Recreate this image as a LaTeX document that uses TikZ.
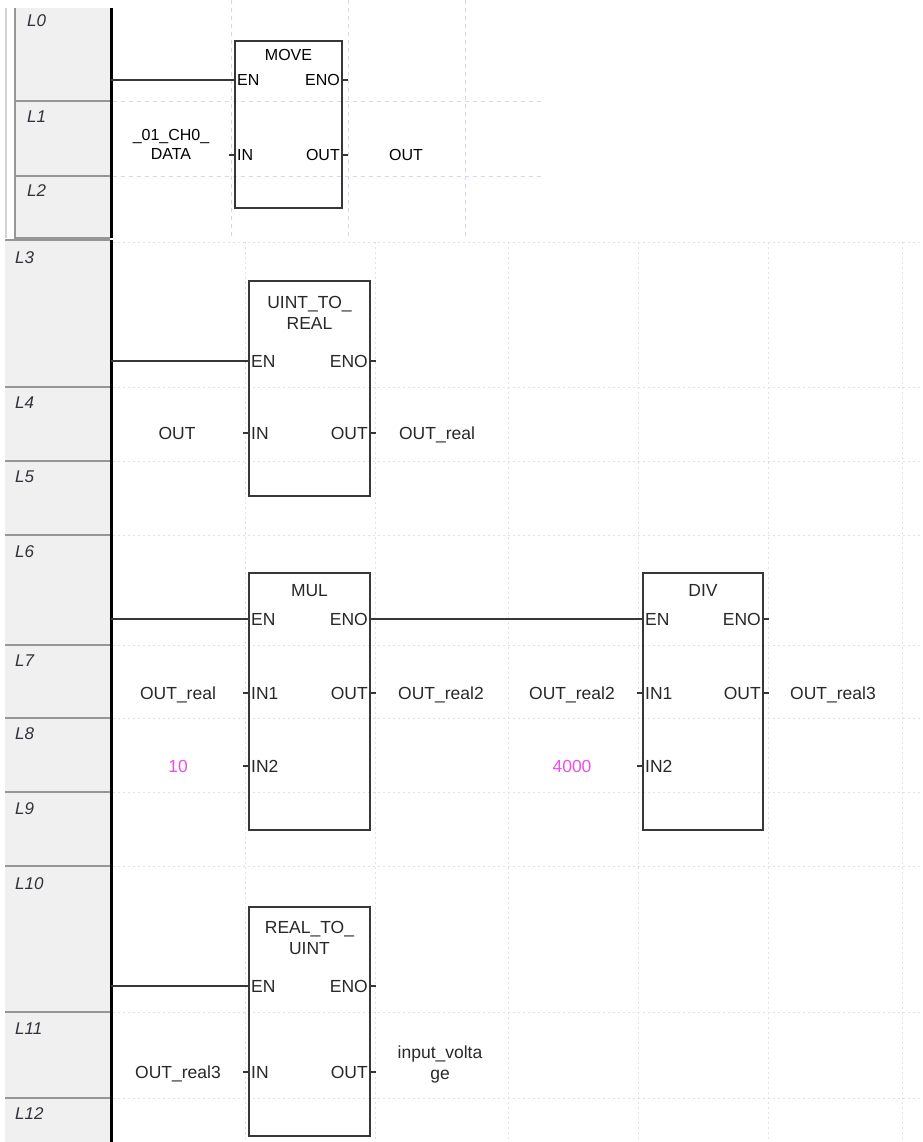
\documentclass[tikz,border=0pt]{standalone}
\usepackage{fontspec}
\setmainfont{Liberation Sans}
\usetikzlibrary{positioning,calc}
\definecolor{guttergray}{RGB}{240,240,240}
\definecolor{sepgray}{RGB}{150,150,150}
\definecolor{gridblue}{RGB}{214,214,240}
\definecolor{gridgray}{RGB}{225,225,225}
\definecolor{boxgray}{RGB}{55,55,55}
\definecolor{textgray}{RGB}{40,40,40}
\definecolor{labelgray}{RGB}{50,50,60}
\definecolor{constpink}{RGB}{235,80,235}

\begin{document}
\begin{tikzpicture}[
    x=1pt, y=-1pt,
    every node/.style={inner sep=0pt},
    topfont/.style={font=\fontsize{16}{19}\selectfont, text height=11.5pt, text depth=0pt, text=black},
    lowfont/.style={font=\fontsize{17.5}{21}\selectfont, text height=12.5pt, text depth=0pt, text=textgray},
    twoline/.style={align=center, anchor=base},
    rowlabel/.style={font=\fontsize{17}{20}\selectfont\itshape, anchor=west, text=labelgray},
    fblock/.style={rectangle, draw=boxgray, line width=1.6pt, minimum width=121pt},
    pinl/.style={anchor=west},
    pinr/.style={anchor=east},
    rail/.style={line width=3pt, black},
    rung/.style={line width=1.6pt, boxgray},
    stub/.style={line width=1.4pt, boxgray},
    topgrid/.style={gridblue, line width=0.8pt, dash pattern=on 4pt off 4pt},
    lowgrid/.style={gridgray, line width=0.8pt, dash pattern=on 2pt off 3pt},
    sep/.style={sepgray, line width=1.6pt}
]

% Page
\fill[white] (0,0) rectangle (922,1142);
\useasboundingbox (0,0) rectangle (922,1142);

% Upper program: gutter and grid
\fill[guttergray] (15,8) rectangle (110,238);
\draw[gray!35, line width=1.4pt] (6,8) -- (6,238);
\draw[sep] (15,8) -- (15,238) -- (110,238);
\draw[sep] (15,101) -- (110,101) (15,176) -- (110,176);
\draw[topgrid] (113,101) -- (545,101) (113,176) -- (545,176);
\draw[topgrid] (231,0) -- (231,238) (348,0) -- (348,238) (465,0) -- (465,238);
\draw[rail] (111,8) -- (111,238);

\node[rowlabel] (l0) at (27,21) {L0};
\node[rowlabel] (l1) at (27,117) {L1};
\node[rowlabel] (l2) at (27,191) {L2};

% Lower program: gutter and grid
\fill[guttergray] (5,240) rectangle (110,1142);
\draw[sep] (5,240) -- (110,240);
\draw[sep] (5,387) -- (110,387) (5,461) -- (110,461) (5,535) -- (110,535)
           (5,645) -- (110,645) (5,718) -- (110,718) (5,792) -- (110,792)
           (5,866) -- (110,866) (5,1012) -- (110,1012) (5,1098) -- (110,1098);
\draw[lowgrid] (113,242) -- (922,242) (113,387) -- (922,387) (113,461) -- (922,461)
               (113,535) -- (922,535) (113,645) -- (922,645) (113,718) -- (922,718)
               (113,792) -- (922,792) (113,866) -- (922,866) (113,1012) -- (922,1012)
               (113,1098) -- (922,1098);
\draw[lowgrid] (245,242) -- (245,1142) (375,242) -- (375,1142) (508,242) -- (508,1142)
               (638,242) -- (638,1142) (768,242) -- (768,1142) (902,242) -- (902,1142);
\draw[rail] (111,240) -- (111,1142);

\node[rowlabel] (l3) at (15,258) {L3};
\node[rowlabel] (l4) at (15,403) {L4};
\node[rowlabel] (l5) at (15,477) {L5};
\node[rowlabel] (l6) at (15,552) {L6};
\node[rowlabel] (l7) at (15,661) {L7};
\node[rowlabel] (l8) at (15,734) {L8};
\node[rowlabel] (l9) at (15,809) {L9};
\node[rowlabel] (l10) at (15,884) {L10};
\node[rowlabel] (l11) at (15,1029) {L11};
\node[rowlabel] (l12) at (15,1114) {L12};

% Rung 0: MOVE
\node[fblock, minimum width=107pt, minimum height=167pt] (move) at (288.5,124.5) {};
\node[topfont, anchor=north] (movet) at (288.5,49) {MOVE};
\node[topfont, pinl] (moveEN) at (237,80) {EN};
\node[topfont, pinr] (moveENO) at (340,80) {ENO};
\node[topfont, pinl] (moveIN) at (237,155) {IN};
\node[topfont, pinr] (moveOUT) at (340,155) {OUT};
\node[topfont, twoline] (chdata) at (171,160) {\_01\_CH0\_\\DATA};
\node[topfont] (moveout) at (406,155) {OUT};
\coordinate (r0) at (111,80);
\draw[rung] (r0) -- (move.west |- r0);
\draw[stub] (move.east |- moveENO) -- ++(5,0);
\draw[stub] (move.east |- moveOUT) -- ++(5,0);
\draw[stub] (move.west |- moveIN) -- ++(-5,0);

% Rung 3: UINT_TO_REAL
\node[fblock, minimum height=215pt] (utr) at (309.5,388.5) {};
\node[lowfont, twoline] (utrt) at (309.5,329.5) {UINT\_TO\_\\REAL};
\node[lowfont, pinl] (utrEN) at (251,361) {EN};
\node[lowfont, pinr] (utrENO) at (368,361) {ENO};
\node[lowfont, pinl] (utrIN) at (251,433) {IN};
\node[lowfont, pinr] (utrOUT) at (368,433) {OUT};
\node[lowfont] (utrin) at (177,433) {OUT};
\node[lowfont] (utrout) at (437,433) {OUT\_real};
\coordinate (r3) at (111,361);
\draw[rung] (r3) -- (utr.west |- r3);
\draw[stub] (utr.east |- utrENO) -- ++(5,0);
\draw[stub] (utr.east |- utrOUT) -- ++(5,0);
\draw[stub] (utr.west |- utrIN) -- ++(-5,0);

% Rung 6: MUL and DIV
\node[fblock, minimum height=257pt] (mul) at (309.5,701.5) {};
\node[lowfont, anchor=north] (mult) at (309.5,584) {MUL};
\node[lowfont, pinl] (mulEN) at (251,619) {EN};
\node[lowfont, pinr] (mulENO) at (368,619) {ENO};
\node[lowfont, pinl] (mulIN1) at (251,693) {IN1};
\node[lowfont, pinl] (mulIN2) at (251,766) {IN2};
\node[lowfont, pinr] (mulOUT) at (368,693) {OUT};
\node[lowfont] (mulin1) at (178,693) {OUT\_real};
\node[lowfont, text=constpink] (mulin2) at (178,766) {10};
\node[lowfont] (mulout) at (441,693) {OUT\_real2};

\node[fblock, minimum width=120pt, minimum height=257pt] (div) at (703,701.5) {};
\node[lowfont, anchor=north] (divt) at (703,584) {DIV};
\node[lowfont, pinl] (divEN) at (645,619) {EN};
\node[lowfont, pinr] (divENO) at (761,619) {ENO};
\node[lowfont, pinl] (divIN1) at (645,693) {IN1};
\node[lowfont, pinl] (divIN2) at (645,766) {IN2};
\node[lowfont, pinr] (divOUT) at (761,693) {OUT};
\node[lowfont] (divin1) at (572,693) {OUT\_real2};
\node[lowfont, text=constpink] (divin2) at (572,766) {4000};
\node[lowfont] (divout) at (833,693) {OUT\_real3};

\coordinate (r6) at (111,619);
\draw[rung] (r6) -- (mul.west |- r6);
\draw[rung] (mul.east |- mulENO) -- (div.west |- mulENO);
\draw[stub] (mul.east |- mulOUT) -- ++(5,0);
\draw[stub] (mul.west |- mulIN1) -- ++(-5,0);
\draw[stub] (mul.west |- mulIN2) -- ++(-5,0);
\draw[stub] (div.east |- divENO) -- ++(5,0);
\draw[stub] (div.east |- divOUT) -- ++(5,0);
\draw[stub] (div.west |- divIN1) -- ++(-5,0);
\draw[stub] (div.west |- divIN2) -- ++(-5,0);

% Rung 10: REAL_TO_UINT
\node[fblock, minimum height=229pt] (rtu) at (309.5,1021.5) {};
\node[lowfont, twoline] (rtut) at (309.5,954) {REAL\_TO\_\\UINT};
\node[lowfont, pinl] (rtuEN) at (251,986) {EN};
\node[lowfont, pinr] (rtuENO) at (368,986) {ENO};
\node[lowfont, pinl] (rtuIN) at (251,1072) {IN};
\node[lowfont, pinr] (rtuOUT) at (368,1072) {OUT};
\node[lowfont] (rtuin) at (178,1072) {OUT\_real3};
\node[lowfont, twoline] (rtuout) at (440,1079) {input\_volta\\ge};
\coordinate (r10) at (111,986);
\draw[rung] (r10) -- (rtu.west |- r10);
\draw[stub] (rtu.east |- rtuENO) -- ++(5,0);
\draw[stub] (rtu.east |- rtuOUT) -- ++(5,0);
\draw[stub] (rtu.west |- rtuIN) -- ++(-5,0);

\end{tikzpicture}
\end{document}
